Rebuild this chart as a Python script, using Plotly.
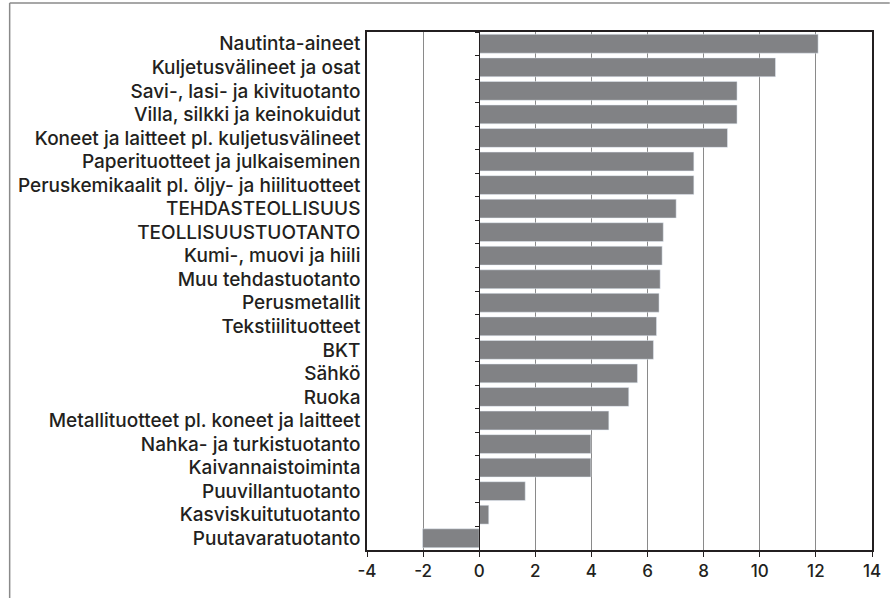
import plotly.graph_objects as go

categories = [
    "Nautinta-aineet",
    "Kuljetusvälineet ja osat",
    "Savi-, lasi- ja kivituotanto",
    "Villa, silkki ja keinokuidut",
    "Koneet ja laitteet pl. kuljetusvälineet",
    "Paperituotteet ja julkaiseminen",
    "Peruskemikaalit pl. öljy- ja hiilituotteet",
    "TEHDASTEOLLISUUS",
    "TEOLLISUUSTUOTANTO",
    "Kumi-, muovi ja hiili",
    "Muu tehdastuotanto",
    "Perusmetallit",
    "Tekstiilituotteet",
    "BKT",
    "Sähkö",
    "Ruoka",
    "Metallituotteet pl. koneet ja laitteet",
    "Nahka- ja turkistuotanto",
    "Kaivannaistoiminta",
    "Puuvillantuotanto",
    "Kasviskuitutuotanto",
    "Puutavaratuotanto",
]
values = [12.08, 10.56, 9.19, 9.19, 8.85, 7.65, 7.65, 7.02, 6.56, 6.52, 6.45,
          6.41, 6.32, 6.21, 5.64, 5.33, 4.62, 3.98, 3.98, 1.64, 0.34, -2.02]
x_ticks = [-4, -2, 0, 2, 4, 6, 8, 10, 12, 14]

W, H = 893, 598
L, R, T, B = 367, 13, 32, 48
pw, ph = W - L - R, H - T - B

FAMILY = "Inter, Liberation Sans, Arial, sans-serif"
TEXT = "#231f20"
font = dict(family=FAMILY, size=19, color=TEXT, weight=500)

fig = go.Figure()
fig.add_trace(go.Bar(
    y=categories, x=values, orientation="h",
    marker=dict(color="#818285", line=dict(width=0)),
    hoverinfo="x+y", showlegend=False,
))
# invisible trace carrying the zero axis with boundary ticks
fig.add_trace(go.Bar(
    y=categories, x=values, orientation="h", yaxis="y2",
    marker=dict(color="rgba(0,0,0,0)"), hoverinfo="skip", showlegend=False,
))

fig.update_layout(
    width=W, height=H,
    margin=dict(l=L, r=R, t=T, b=B),
    paper_bgcolor="white", plot_bgcolor="white",
    bargap=0.2,
    font=font,
    xaxis=dict(
        range=[x_ticks[0], x_ticks[-1]],
        tickvals=x_ticks, ticktext=[str(v) for v in x_ticks],
        showgrid=True, gridcolor="#8a8a8a", gridwidth=1,
        zeroline=False,
        showline=True, linecolor=TEXT, linewidth=1.5, mirror=True,
        ticks="outside", ticklen=5, tickcolor=TEXT, tickwidth=1,
        tickfont=dict(family=FAMILY, size=17, color=TEXT, weight=500),
    ),
    yaxis=dict(
        type="category", categoryorder="array", categoryarray=categories,
        autorange="reversed",
        showgrid=False, zeroline=False,
        showline=True, linecolor=TEXT, linewidth=1.5, mirror=True,
        ticks="", ticklabelstandoff=1,
        tickfont=dict(family=FAMILY, size=19, color=TEXT, weight=500),
    ),
    yaxis2=dict(
        type="category", categoryorder="array", categoryarray=categories,
        autorange="reversed",
        overlaying="y", anchor="free",
        position=(0 - x_ticks[0]) / (x_ticks[-1] - x_ticks[0]),
        side="left",
        showgrid=False, zeroline=False, showticklabels=False,
        showline=True, linecolor=TEXT, linewidth=1.2,
        ticks="outside", tickson="boundaries", ticklen=4,
        tickcolor=TEXT, tickwidth=1,
    ),
    shapes=[
        dict(type="line", xref="paper", yref="paper",
             x0=(4 - L) / pw, x1=(W + 5 - L) / pw,
             y0=(H - 3 - B) / ph, y1=(H - 3 - B) / ph,
             line=dict(color="#8a8a8a", width=1.5)),
        dict(type="line", xref="paper", yref="paper",
             x0=(4 - L) / pw, x1=(4 - L) / pw,
             y0=(H - 3 - B) / ph, y1=(-5 - B) / ph,
             line=dict(color="#8a8a8a", width=1.5)),
    ],
)

fig.write_html("out.html",
               config={"displayModeBar": False},
               post_script="document.body.style.margin='0';document.body.style.overflow='hidden';")
